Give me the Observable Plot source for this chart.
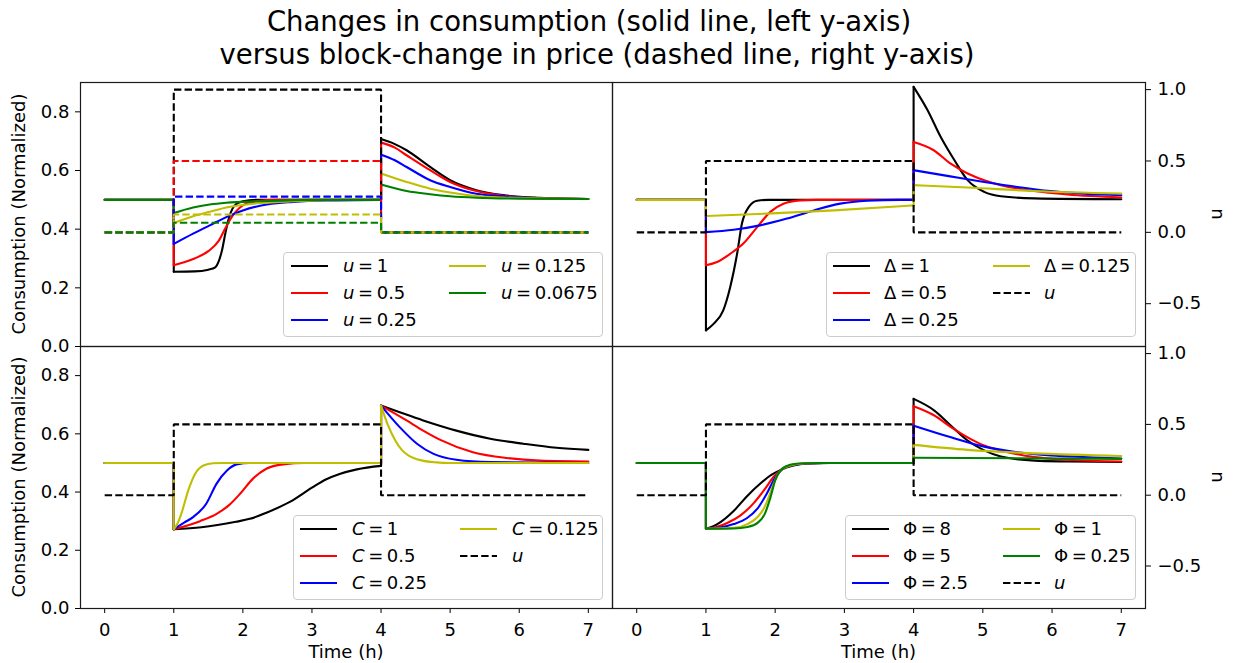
<!DOCTYPE html>
<html>
<head>
<meta charset="utf-8">
<script src="https://cdn.jsdelivr.net/npm/d3@7"></script>
<script src="https://cdn.jsdelivr.net/npm/@observablehq/plot@0.6"></script>
<style>
  html, body { margin: 0; padding: 0; background: #fff; overflow: hidden; }
  #fig { position: relative; width: 1234px; height: 663px; overflow: hidden; font-family: "DejaVu Sans", sans-serif; }
  #fig > svg { position: absolute; left: 0; top: 0; }
  .legend { position: absolute; box-sizing: border-box; border: 1px solid #cccccc; border-radius: 4px; background: rgba(255,255,255,0.8); }
  .legend .item { position: absolute; height: 22px; line-height: 22px; font-size: 18px; white-space: nowrap; color: #000; font-family: "DejaVu Sans", sans-serif; }
  .legend svg { position: absolute; overflow: visible; }
</style>
</head>
<body>
<div id="fig"></div>
<script>
// ---------------- data ----------------
const titleLines = ["Changes in consumption (solid line, left y-axis)", "versus block-change in price (dashed line, right y-axis)"];
const timeTicks = [0, 1, 2, 3, 4, 5, 6, 7];
const consumptionTicks = [0, 0.2, 0.4, 0.6, 0.8];
const uTicks = [-0.5, 0, 0.5, 1.0];
const stepTimes = [0, 1, 4, 7];          // price block: off, on at t=1, off at t=4, end at t=7

// Top-left: varying block size u
const uLevelsTL = [1, 0.5, 0.25, 0.125, 0.0675];
const tlU1     = [[0,0.5],[1,0.5],[1,0.255],[1.3,0.256],[1.5,0.262],[1.6,0.27],[1.65,0.29],[1.7,0.33],[1.75,0.39],[1.8,0.44],[1.85,0.47],[1.9,0.485],[2,0.495],[2.2,0.5],[4,0.5],[4,0.707],[4.2,0.69],[4.37,0.669],[4.71,0.612],[5,0.567],[5.38,0.533],[5.77,0.516],[6.3,0.507],[7,0.503]];
const tlU05    = [[0,0.5],[1,0.5],[1,0.277],[1.15,0.287],[1.3,0.3],[1.5,0.325],[1.65,0.36],[1.75,0.405],[1.85,0.445],[1.95,0.472],[2.05,0.488],[2.2,0.496],[2.5,0.5],[4,0.5],[4,0.695],[4.2,0.678],[4.37,0.652],[4.71,0.601],[5,0.561],[5.38,0.53],[5.77,0.514],[6.3,0.506],[7,0.503]];
const tlU025   = [[0,0.5],[1,0.5],[1,0.35],[1.28,0.385],[1.52,0.413],[1.76,0.441],[2,0.464],[2.25,0.48],[2.73,0.493],[3.2,0.498],[4,0.5],[4,0.654],[4.2,0.635],[4.37,0.612],[4.71,0.567],[5,0.544],[5.38,0.521],[5.77,0.512],[6.3,0.505],[7,0.503]];
const tlU0125  = [[0,0.5],[1,0.5],[1,0.421],[1.28,0.444],[1.52,0.459],[1.76,0.474],[2.25,0.489],[2.73,0.495],[3.5,0.5],[4,0.5],[4,0.59],[4.37,0.561],[4.71,0.538],[5,0.525],[5.38,0.513],[5.77,0.508],[6.5,0.504],[7,0.503]];
const tlU00675 = [[0,0.5],[1,0.5],[1,0.455],[1.28,0.474],[1.52,0.484],[1.76,0.49],[2.25,0.495],[3,0.5],[4,0.5],[4,0.552],[4.37,0.53],[4.71,0.519],[5,0.512],[5.38,0.507],[6,0.504],[7,0.503]];

// Top-right: varying Delta (u = 0.5)
const trD1    = [[0,0.5],[1,0.5],[1,0.055],[1.11,0.077],[1.25,0.123],[1.35,0.202],[1.45,0.316],[1.52,0.419],[1.62,0.476],[1.74,0.497],[1.9,0.5],[4,0.5],[4,0.885],[4.2,0.806],[4.39,0.715],[4.59,0.635],[4.78,0.567],[5.02,0.527],[5.26,0.512],[5.74,0.505],[7,0.502]];
const trD05   = [[0,0.5],[1,0.5],[1,0.277],[1.16,0.288],[1.35,0.316],[1.54,0.351],[1.74,0.407],[1.93,0.459],[2.12,0.487],[2.36,0.498],[2.6,0.5],[4,0.5],[4,0.697],[4.29,0.669],[4.53,0.624],[4.78,0.59],[5.02,0.567],[5.26,0.55],[5.74,0.53],[6.22,0.518],[7,0.508]];
const trD025  = [[0,0.5],[1,0.5],[1,0.39],[1.4,0.398],[1.78,0.413],[2.17,0.436],[2.56,0.464],[2.94,0.487],[3.33,0.497],[3.8,0.5],[4,0.5],[4,0.601],[4.53,0.58],[5.02,0.561],[5.5,0.544],[5.98,0.53],[6.46,0.521],[7,0.516]];
const trD0125 = [[0,0.5],[1,0.5],[1,0.445],[1.88,0.453],[2.85,0.464],[3.81,0.478],[4,0.481],[4,0.55],[4.78,0.542],[5.74,0.53],[7,0.521]];
const uLevelTR = 0.5;

// Bottom-left: varying C (u = 0.5)
const blC1    = [[0,0.5],[1,0.5],[1,0.272],[1.4,0.279],[1.9,0.298],[2.1,0.308],[2.35,0.33],[2.68,0.366],[3,0.415],[3.2,0.443],[3.4,0.462],[3.65,0.478],[4,0.49],[4,0.697],[4.61,0.646],[5.09,0.611],[5.58,0.583],[6.06,0.566],[6.54,0.552],[7,0.545]];
const blC05   = [[0,0.5],[1,0.5],[1,0.272],[1.38,0.3],[1.62,0.325],[1.8,0.355],[1.96,0.394],[2.15,0.447],[2.34,0.48],[2.58,0.495],[2.9,0.5],[4,0.5],[4,0.697],[4.37,0.646],[4.61,0.611],[4.85,0.58],[5.33,0.537],[5.82,0.517],[6.3,0.508],[7,0.505]];
const blC025  = [[0,0.5],[1,0.5],[1,0.272],[1.15,0.295],[1.28,0.314],[1.47,0.36],[1.62,0.429],[1.77,0.474],[1.91,0.495],[2.1,0.5],[4,0.5],[4,0.697],[4.27,0.623],[4.52,0.566],[4.76,0.531],[5.09,0.511],[5.58,0.503],[7,0.5]];
const blC0125 = [[0,0.5],[1,0.5],[1,0.272],[1.05,0.29],[1.11,0.326],[1.21,0.406],[1.31,0.463],[1.43,0.491],[1.57,0.499],[1.7,0.5],[4,0.5],[4,0.697],[4.1,0.63],[4.2,0.58],[4.3,0.545],[4.4,0.525],[4.6,0.508],[4.8,0.502],[5,0.5],[7,0.5]];
const uLevelBL = 0.5;

// Bottom-right: varying Phi (u = 0.5)
const brP8   = [[0,0.5],[1,0.5],[1,0.274],[1.1,0.282],[1.21,0.297],[1.4,0.335],[1.59,0.385],[1.79,0.43],[1.95,0.46],[2.1,0.478],[2.25,0.49],[2.5,0.498],[2.8,0.5],[4,0.5],[4,0.72],[4.3,0.68],[4.54,0.628],[4.78,0.577],[5.02,0.543],[5.26,0.522],[5.75,0.508],[6.23,0.505],[7,0.503]];
const brP5   = [[0,0.5],[1,0.5],[1,0.274],[1.15,0.28],[1.3,0.293],[1.5,0.32],[1.69,0.362],[1.85,0.41],[1.97,0.45],[2.07,0.474],[2.2,0.49],[2.4,0.498],[2.7,0.5],[4,0.5],[4,0.695],[4.3,0.663],[4.54,0.623],[4.78,0.588],[5.02,0.56],[5.26,0.543],[5.75,0.52],[6.23,0.511],[7,0.505]];
const brP25  = [[0,0.5],[1,0.5],[1,0.274],[1.2,0.278],[1.4,0.29],[1.59,0.31],[1.75,0.345],[1.88,0.395],[2,0.45],[2.1,0.478],[2.25,0.493],[2.5,0.499],[2.7,0.5],[4,0.5],[4,0.628],[4.54,0.588],[5.02,0.556],[5.5,0.537],[5.98,0.526],[6.47,0.52],[7,0.515]];
const brP1   = [[0,0.5],[1,0.5],[1,0.274],[1.4,0.277],[1.6,0.29],[1.75,0.315],[1.85,0.35],[1.95,0.41],[2.03,0.458],[2.12,0.482],[2.3,0.496],[2.6,0.5],[4,0.5],[4,0.562],[4.78,0.545],[5.75,0.533],[7,0.524]];
const brP025 = [[0,0.5],[1,0.5],[1,0.274],[1.4,0.275],[1.6,0.28],[1.75,0.295],[1.85,0.325],[1.93,0.38],[2,0.44],[2.07,0.472],[2.15,0.488],[2.3,0.497],[2.6,0.5],[4,0.5],[4,0.518],[7,0.514]];
const uLevelBR = 0.5;

// ---------------- layout / style ----------------
const W = 1234, H = 663;
const xDomain = [-0.35, 7.35];
const yLeftDomain = [0, 0.9];
const yRightDomain = [-0.8, 1.05];
const C = {k: "#000000", r: "#ff0000", b: "#0000ff", y: "#bfbf00", g: "#008000"};
const DASH = "7.4,3.2";
const LW = 2.1;
const frames = {
  tl: {l: 80,  r: 612,  t: 82,  b: 346},
  tr: {l: 612, r: 1145, t: 82,  b: 346},
  bl: {l: 80,  r: 612,  t: 346, b: 608},
  br: {l: 612, r: 1145, t: 346, b: 608}
};

// build the step series of the price block from the step times and a level
function blockSeries(level) {
  const [t0, t1, t2, t3] = stepTimes;
  return [[t0, 0], [t1, 0], [t1, level], [t2, level], [t2, 0], [t3, 0]];
}

// split a series into smooth pieces and vertical jumps (same t twice)
function splitSeries(data) {
  const smooth = [], jumps = [];
  let seg = 0;
  data.forEach((d, i) => {
    if (i > 0 && d[0] === data[i - 1][0]) {
      jumps.push({t: data[i - 1][0], v: data[i - 1][1], seg: i}, {t: d[0], v: d[1], seg: i});
      seg++;
    }
    smooth.push({t: d[0], v: d[1], seg});
  });
  return {smooth, jumps};
}

const fig = document.getElementById("fig");

function basePlot(f, yDomain, yAxis, yTicks, showX, marks) {
  return Plot.plot({
    width: W, height: H,
    marginLeft: f.l, marginRight: W - f.r, marginTop: f.t, marginBottom: H - f.b,
    style: {background: "transparent", fontFamily: "DejaVu Sans", fontSize: "18px", color: "black", overflow: "visible"},
    x: {domain: xDomain, axis: showX ? "bottom" : null, ticks: timeTicks, tickSize: 5, tickPadding: 10, tickFormat: d3.format("d"), label: null},
    y: {domain: yDomain, axis: yAxis, ticks: yTicks, tickSize: 5, tickPadding: yAxis === "right" ? 7 : 6, tickFormat: d3.format(".1f"), label: null},
    marks
  });
}

function panel(f, solid, dashed, isLeft, isBottom) {
  const solidMarks = [];
  solid.forEach(s => {
    const {smooth, jumps} = splitSeries(s.data);
    solidMarks.push(Plot.line(jumps, {x: "t", y: "v", z: "seg", stroke: s.color, strokeWidth: LW}));
    solidMarks.push(Plot.line(smooth, {x: "t", y: "v", z: "seg", curve: "monotone-x", stroke: s.color, strokeWidth: LW}));
  });
  solidMarks.push(Plot.frame({stroke: "#1a1a1a", strokeWidth: 1.2}));
  const p1 = basePlot(f, yLeftDomain, isLeft ? "left" : null, consumptionTicks, isBottom, solidMarks);
  fig.appendChild(p1);
  const dashedMarks = dashed.map(s => Plot.line(blockSeries(s.level), {x: d => d[0], y: d => d[1], stroke: s.color, strokeWidth: LW, strokeDasharray: DASH, strokeLinecap: "butt", strokeLinejoin: "miter"}));
  const p2 = basePlot(f, yRightDomain, isLeft ? null : "right", uTicks, false, dashedMarks);
  fig.appendChild(p2);
}

panel(frames.tl,
  [{data: tlU1, color: C.k}, {data: tlU05, color: C.r}, {data: tlU025, color: C.b}, {data: tlU0125, color: C.y}, {data: tlU00675, color: C.g}],
  uLevelsTL.map((lv, i) => ({level: lv, color: [C.k, C.r, C.b, C.y, C.g][i]})),
  true, false);
panel(frames.tr,
  [{data: trD1, color: C.k}, {data: trD05, color: C.r}, {data: trD025, color: C.b}, {data: trD0125, color: C.y}],
  [{level: uLevelTR, color: C.k}], false, false);
panel(frames.bl,
  [{data: blC1, color: C.k}, {data: blC05, color: C.r}, {data: blC025, color: C.b}, {data: blC0125, color: C.y}],
  [{level: uLevelBL, color: C.k}], true, true);
panel(frames.br,
  [{data: brP8, color: C.k}, {data: brP5, color: C.r}, {data: brP25, color: C.b}, {data: brP1, color: C.y}, {data: brP025, color: C.g}],
  [{level: uLevelBR, color: C.k}], false, true);

// ---------------- legends ----------------
const eq = (sym, val) => `${sym}&thinsp;=&thinsp;${val}`;
const legends = [
  {left: 283, top: 252, width: 320, height: 85, handleX: [7, 165], textX: [59, 217],
   items: [
     {label: eq("<i>u</i>", "1"), color: C.k}, {label: eq("<i>u</i>", "0.5"), color: C.r}, {label: eq("<i>u</i>", "0.25"), color: C.b},
     {label: eq("<i>u</i>", "0.125"), color: C.y}, {label: eq("<i>u</i>", "0.0675"), color: C.g}]},
  {left: 826, top: 252, width: 310, height: 85, handleX: [6, 166], textX: [57, 217],
   items: [
     {label: eq("Δ", "1"), color: C.k}, {label: eq("Δ", "0.5"), color: C.r}, {label: eq("Δ", "0.25"), color: C.b},
     {label: eq("Δ", "0.125"), color: C.y}, {label: "<i>u</i>", color: C.k, dashed: true}]},
  {left: 293, top: 515, width: 310, height: 85, handleX: [6, 166], textX: [58, 218],
   items: [
     {label: eq("<i>C</i>", "1"), color: C.k}, {label: eq("<i>C</i>", "0.5"), color: C.r}, {label: eq("<i>C</i>", "0.25"), color: C.b},
     {label: eq("<i>C</i>", "0.125"), color: C.y}, {label: "<i>u</i>", color: C.k, dashed: true}]},
  {left: 845, top: 515, width: 291, height: 85, handleX: [6, 157], textX: [57, 208],
   items: [
     {label: eq("Φ", "8"), color: C.k}, {label: eq("Φ", "5"), color: C.r}, {label: eq("Φ", "2.5"), color: C.b},
     {label: eq("Φ", "1"), color: C.y}, {label: eq("Φ", "0.25"), color: C.g}, {label: "<i>u</i>", color: C.k, dashed: true}]}
];
const rowCenters = [13, 40, 67];
legends.forEach(cfg => {
  const box = document.createElement("div");
  box.className = "legend";
  Object.assign(box.style, {left: cfg.left + "px", top: cfg.top + "px", width: cfg.width + "px", height: cfg.height + "px"});
  cfg.items.forEach((it, i) => {
    const col = Math.floor(i / 3), row = i % 3;
    const cy = rowCenters[row];
    const svg = d3.create("svg").attr("width", 37).attr("height", 6)
      .style("left", cfg.handleX[col] + "px").style("top", (cy - 3) + "px");
    svg.append("line").attr("x1", 0).attr("x2", 37).attr("y1", 3).attr("y2", 3)
      .attr("stroke", it.color).attr("stroke-width", LW)
      .attr("stroke-dasharray", it.dashed ? DASH : null);
    box.appendChild(svg.node());
    const span = document.createElement("div");
    span.className = "item";
    span.innerHTML = it.label;
    span.style.left = cfg.textX[col] + "px";
    span.style.top = (cy - 11) + "px";
    box.appendChild(span);
  });
  fig.appendChild(box);
});

// ---------------- title and axis labels ----------------
const ann = d3.create("svg").attr("width", W).attr("height", H)
  .style("font-family", "DejaVu Sans").style("pointer-events", "none");
ann.append("text").attr("x", 589).attr("y", 31).attr("text-anchor", "middle").attr("font-size", 27.5).text(titleLines[0]);
ann.append("text").attr("x", 597).attr("y", 64).attr("text-anchor", "middle").attr("font-size", 27.5).text(titleLines[1]);
[frames.tl, frames.bl].forEach(f => {
  ann.append("text").attr("transform", `translate(25,${(f.t + f.b) / 2}) rotate(-90)`)
    .attr("text-anchor", "middle").attr("font-size", 18).text("Consumption (Normalized)");
});
[frames.tr, frames.br].forEach(f => {
  ann.append("text").attr("transform", `translate(1222,${(f.t + f.b) / 2}) rotate(-90)`)
    .attr("text-anchor", "middle").attr("font-size", 18).text("u");
});
[frames.bl, frames.br].forEach(f => {
  ann.append("text").attr("x", (f.l + f.r) / 2).attr("y", 658)
    .attr("text-anchor", "middle").attr("font-size", 18).text("Time (h)");
});
fig.appendChild(ann.node());
</script>
</body>
</html>
